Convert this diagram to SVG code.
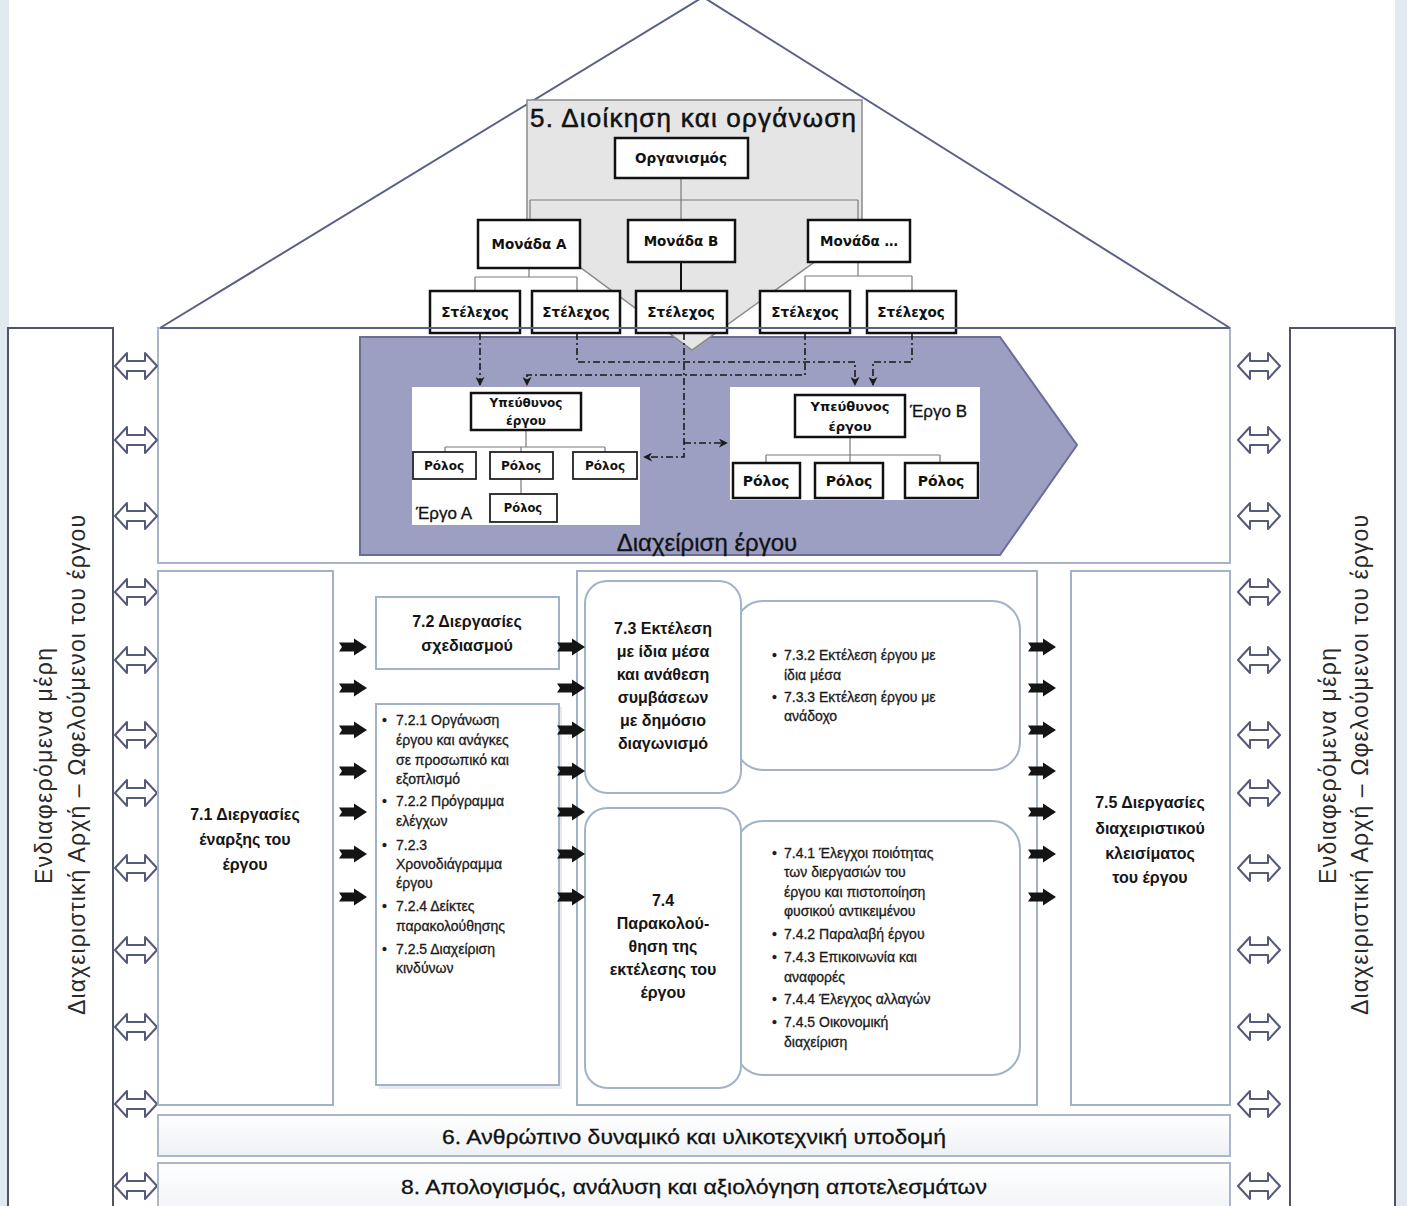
<svg xmlns="http://www.w3.org/2000/svg" width="1407" height="1206" viewBox="0 0 1407 1206">
<style>
.sans{font-family:"Liberation Sans",Arial,sans-serif}
.org{font-family:"DejaVu Sans","Liberation Sans",sans-serif;font-weight:bold;fill:#111}
.obox{fill:#fff;stroke:#111;stroke-width:2.5}
.rbox{fill:#fff;stroke:#222;stroke-width:1.8}
.ln{stroke:#7a7a7a;stroke-width:1.2;fill:none}
.pbox{fill:#fff;stroke:#a3b3c7;stroke-width:2}
.pt{font-family:"Liberation Sans",Arial,sans-serif;font-weight:bold;font-size:16px;fill:#151515;text-anchor:middle}
.lt{font-family:"Liberation Sans",Arial,sans-serif;font-size:14px;fill:#1a1a1a;stroke:#1a1a1a;stroke-width:0.3}
.dash{fill:none;stroke:#1a1a1a;stroke-width:1.6;stroke-dasharray:7 3 2 3}
.roof{stroke:#5b6087;stroke-width:2;fill:none}
.vt{font-family:"Liberation Sans",Arial,sans-serif;font-size:23px;fill:#2a2a2a;text-anchor:middle}
</style>
<defs>
<marker id="ah" viewBox="0 0 10 10" refX="9" refY="5" markerWidth="9" markerHeight="9" markerUnits="userSpaceOnUse" orient="auto">
<path d="M0,0 L10,5 L0,10 L3,5 Z" fill="#1a1a1a"/>
</marker>
<path id="dbl" d="M-21,0 L-9,-13 L-9,-5 L9,-5 L9,-13 L21,0 L9,13 L9,5 L-9,5 L-9,13 Z" fill="#fff" stroke="#55597a" stroke-width="2" stroke-linejoin="round"/>
<path id="blk" d="M-14,-4.5 L1,-4.5 L1,-8.5 L14,0 L1,8.5 L1,4.5 L-14,4.5 L-11,0 Z" fill="#141414"/>
<linearGradient id="bar" x1="0" y1="0" x2="0" y2="1">
<stop offset="0" stop-color="#ffffff"/>
<stop offset="1" stop-color="#eef1f5"/>
</linearGradient>
</defs>
<rect width="1407" height="1206" fill="#fff"/>
<rect x="0" y="0" width="9" height="1206" fill="#e3e9f1"/>
<rect x="1395" y="0" width="12" height="1206" fill="#e3e9f1"/>

<g id="roof">
<path class="roof" d="M160,328 L703,-3 L1230,328"/>
</g>

<g id="top-section">
<rect x="158" y="328" width="1072" height="235" fill="#fff" stroke="#a7b5c6" stroke-width="2"/>
</g>

<g id="project-management">
<polygon points="360,337 1000,337 1077,445 1000,555 360,555" fill="#9c9ec2" stroke="#6b6d95" stroke-width="2"/>
<text class="sans" x="707" y="551" font-size="24" text-anchor="middle" fill="#111" stroke="#111" stroke-width="0.3">Διαχείριση έργου</text>
</g>

<g id="administration">
<polygon points="527,100 862,100 862,228 692,350 527,228" fill="#e5e5e5" stroke="#8a8a8a" stroke-width="1.5"/>
<text class="sans" x="693" y="127" font-size="26" text-anchor="middle" fill="#111" stroke="#111" stroke-width="0.5" textLength="326">5. Διοίκηση και οργάνωση</text>
</g>

<g id="project-a">
<rect x="412" y="387" width="228" height="138" fill="#fff"/>
<text class="sans" x="416" y="519" font-size="17" fill="#111" stroke="#111" stroke-width="0.3">Έργο Α</text>
</g>
<g id="project-b">
<rect x="730" y="387" width="250" height="113" fill="#fff"/>
<text class="sans" x="910" y="417" font-size="17" fill="#111" stroke="#111" stroke-width="0.3">Έργο Β</text>
</g>

<g id="connectors">
<path class="ln" d="M681,178 V220 M530,200 H858 M530,200 V220 M858,200 V220"/>
<path class="ln" d="M529,268 V277 M475,277 H577 M475,277 V291 M577,277 V291"/>
<path d="M681,262 V291" stroke="#111" stroke-width="2"/>
<path class="ln" d="M858,262 V276 M805,276 H912 M805,276 V291 M912,276 V291"/>
<path class="ln" d="M526,430 V447 M445,447 H605 M445,447 V452 M521,447 V452 M605,447 V452 M521,479 V494"/>
<path class="ln" d="M850,437 V463 M766,455 H940 M766,455 V463 M940,455 V463"/>
<path class="dash" d="M480,333 V385" marker-end="url(#ah)"/>
<path class="dash" d="M805,333 V375 H527 V385" marker-end="url(#ah)"/>
<path class="dash" d="M577,333 V362 H855 V385" marker-end="url(#ah)"/>
<path class="dash" d="M912,333 V362 H873 V385" marker-end="url(#ah)"/>
<path class="dash" d="M684,333 V457 H644" marker-end="url(#ah)"/>
<path class="dash" d="M684,443 H727" marker-end="url(#ah)"/>
<use href="#dbl" x="136" y="366"/><use href="#dbl" x="136" y="440"/><use href="#dbl" x="136" y="516"/>
<use href="#dbl" x="136" y="592"/><use href="#dbl" x="136" y="660"/><use href="#dbl" x="136" y="735"/>
<use href="#dbl" x="136" y="793"/><use href="#dbl" x="136" y="868"/><use href="#dbl" x="136" y="950"/>
<use href="#dbl" x="136" y="1027"/><use href="#dbl" x="136" y="1104"/><use href="#dbl" x="136" y="1186"/>
<use href="#dbl" x="1259" y="366"/><use href="#dbl" x="1259" y="440"/><use href="#dbl" x="1259" y="516"/>
<use href="#dbl" x="1259" y="592"/><use href="#dbl" x="1259" y="660"/><use href="#dbl" x="1259" y="735"/>
<use href="#dbl" x="1259" y="793"/><use href="#dbl" x="1259" y="868"/><use href="#dbl" x="1259" y="950"/>
<use href="#dbl" x="1259" y="1027"/><use href="#dbl" x="1259" y="1104"/><use href="#dbl" x="1259" y="1186"/>
</g>

<g id="organismos"><rect class="obox" x="615" y="138" width="133" height="40"/><text class="org" x="681" y="163" font-size="13.5" text-anchor="middle">Οργανισμός</text></g>
<g id="monada-a"><rect class="obox" x="478" y="220" width="102" height="48"/><text class="org" x="529" y="249" font-size="13.5" text-anchor="middle">Μονάδα Α</text></g>
<g id="monada-b"><rect class="obox" x="628" y="220" width="107" height="42"/><text class="org" x="681" y="246" font-size="13.5" text-anchor="middle">Μονάδα Β</text></g>
<g id="monada-n"><rect class="obox" x="808" y="220" width="102" height="42"/><text class="org" x="859" y="246" font-size="13.5" text-anchor="middle">Μονάδα …</text></g>
<g id="stelexos-1"><rect class="obox" x="430" y="291" width="90" height="42"/><text class="org" x="475" y="317" font-size="13.5" text-anchor="middle">Στέλεχος</text></g>
<g id="stelexos-2"><rect class="obox" x="532" y="291" width="88" height="42"/><text class="org" x="576" y="317" font-size="13.5" text-anchor="middle">Στέλεχος</text></g>
<g id="stelexos-3"><rect class="obox" x="636" y="291" width="91" height="42"/><text class="org" x="681" y="317" font-size="13.5" text-anchor="middle">Στέλεχος</text></g>
<g id="stelexos-4"><rect class="obox" x="760" y="291" width="90" height="42"/><text class="org" x="805" y="317" font-size="13.5" text-anchor="middle">Στέλεχος</text></g>
<g id="stelexos-5"><rect class="obox" x="867" y="291" width="89" height="42"/><text class="org" x="911" y="317" font-size="13.5" text-anchor="middle">Στέλεχος</text></g>

<path class="roof" d="M160,328 H1230"/>

<g id="ypeythynos-a"><rect class="obox" x="471" y="393" width="110" height="37"/><text class="org" x="526" y="407" font-size="12" text-anchor="middle">Υπεύθυνος</text><text class="org" x="526" y="425" font-size="12" text-anchor="middle">έργου</text></g>
<g id="rolos-a1"><rect class="rbox" x="413" y="452" width="63" height="27"/><text class="org" x="444" y="470" font-size="12" text-anchor="middle">Ρόλος</text></g>
<g id="rolos-a2"><rect class="rbox" x="490" y="452" width="63" height="27"/><text class="org" x="521" y="470" font-size="12" text-anchor="middle">Ρόλος</text></g>
<g id="rolos-a3"><rect class="rbox" x="573" y="452" width="64" height="27"/><text class="org" x="605" y="470" font-size="12" text-anchor="middle">Ρόλος</text></g>
<g id="rolos-a4"><rect class="rbox" x="490" y="494" width="67" height="28"/><text class="org" x="523" y="512" font-size="11.5" text-anchor="middle">Ρόλος</text></g>

<g id="ypeythynos-b"><rect class="obox" x="795" y="395" width="110" height="42"/><text class="org" x="850" y="411" font-size="13" text-anchor="middle">Υπεύθυνος</text><text class="org" x="850" y="431" font-size="13" text-anchor="middle">έργου</text></g>
<g id="rolos-b1"><rect class="obox" x="733" y="463" width="67" height="35"/><text class="org" x="766" y="486" font-size="14" text-anchor="middle">Ρόλος</text></g>
<g id="rolos-b2"><rect class="obox" x="815" y="463" width="68" height="35"/><text class="org" x="849" y="486" font-size="14" text-anchor="middle">Ρόλος</text></g>
<g id="rolos-b3"><rect class="obox" x="905" y="463" width="73" height="35"/><text class="org" x="941" y="486" font-size="14" text-anchor="middle">Ρόλος</text></g>

<g id="stakeholders-left">
<rect x="8" y="328" width="105" height="900" fill="#fff" stroke="#4f546a" stroke-width="2"/>
<text class="vt" transform="translate(52,766) rotate(-90)" textLength="236">Ενδιαφερόμενα μέρη</text>
<text class="vt" transform="translate(85,765) rotate(-90)" textLength="500">Διαχειριστική Αρχή – Ωφελούμενοι του έργου</text>
</g>
<g id="stakeholders-right">
<rect x="1290" y="328" width="105" height="900" fill="#fff" stroke="#4f546a" stroke-width="2"/>
<text class="vt" transform="translate(1336,766) rotate(-90)" textLength="236">Ενδιαφερόμενα μέρη</text>
<text class="vt" transform="translate(1368,765) rotate(-90)" textLength="500">Διαχειριστική Αρχή – Ωφελούμενοι του έργου</text>
</g>

<g id="p71">
<rect class="pbox" x="158" y="571" width="175" height="534"/>
<text class="pt" x="245" y="820">7.1 Διεργασίες</text>
<text class="pt" x="245" y="845">έναρξης του</text>
<text class="pt" x="245" y="870">έργου</text>
</g>

<g id="p72">
<rect class="pbox" x="376" y="597" width="183" height="72"/>
<text class="pt" x="467" y="627">7.2 Διεργασίες</text>
<text class="pt" x="467" y="651">σχεδιασμού</text>
</g>
<g id="p72-list">
<rect x="379" y="707" width="183" height="382" fill="#e6e9ee"/>
<rect class="pbox" x="376" y="704" width="183" height="381"/>
<g class="lt">
<text x="382" y="725">•</text><text x="396" y="725">7.2.1 Οργάνωση</text>
<text x="396" y="745">έργου και ανάγκες</text>
<text x="396" y="765">σε προσωπικό και</text>
<text x="396" y="784">εξοπλισμό</text>
<text x="382" y="806">•</text><text x="396" y="806">7.2.2 Πρόγραμμα</text>
<text x="396" y="826">ελέγχων</text>
<text x="382" y="850">•</text><text x="396" y="850">7.2.3</text>
<text x="396" y="869">Χρονοδιάγραμμα</text>
<text x="396" y="888">έργου</text>
<text x="382" y="911">•</text><text x="396" y="911">7.2.4 Δείκτες</text>
<text x="396" y="931">παρακολούθησης</text>
<text x="382" y="954">•</text><text x="396" y="954">7.2.5 Διαχείριση</text>
<text x="396" y="973">κινδύνων</text>
</g>
</g>

<g id="p73-74-container">
<rect class="pbox" x="577" y="571" width="460" height="534"/>
</g>

<g id="p73-list">
<rect class="pbox" x="735" y="601" width="285" height="169" rx="28"/>
<g class="lt">
<text x="772" y="660">•</text><text x="784" y="660">7.3.2 Εκτέλεση έργου με</text>
<text x="784" y="680">ίδια μέσα</text>
<text x="772" y="702">•</text><text x="784" y="702">7.3.3 Εκτέλεση έργου με</text>
<text x="784" y="721">ανάδοχο</text>
</g>
</g>
<g id="p73">
<rect class="pbox" x="585" y="581" width="156" height="212" rx="22"/>
<text class="pt" x="663" y="634">7.3 Εκτέλεση</text>
<text class="pt" x="663" y="657">με ίδια μέσα</text>
<text class="pt" x="663" y="680">και ανάθεση</text>
<text class="pt" x="663" y="703">συμβάσεων</text>
<text class="pt" x="663" y="726">με δημόσιο</text>
<text class="pt" x="663" y="749">διαγωνισμό</text>
</g>

<g id="p74-list">
<rect class="pbox" x="735" y="821" width="285" height="254" rx="28"/>
<g class="lt">
<text x="772" y="858">•</text><text x="784" y="858">7.4.1 Έλεγχοι ποιότητας</text>
<text x="784" y="877">των διεργασιών του</text>
<text x="784" y="897">έργου και πιστοποίηση</text>
<text x="784" y="916">φυσικού αντικειμένου</text>
<text x="772" y="939">•</text><text x="784" y="939">7.4.2 Παραλαβή έργου</text>
<text x="772" y="962">•</text><text x="784" y="962">7.4.3 Επικοινωνία και</text>
<text x="784" y="982">αναφορές</text>
<text x="772" y="1004">•</text><text x="784" y="1004">7.4.4 Έλεγχος αλλαγών</text>
<text x="772" y="1027">•</text><text x="784" y="1027">7.4.5 Οικονομική</text>
<text x="784" y="1047">διαχείριση</text>
</g>
</g>
<g id="p74">
<rect class="pbox" x="585" y="808" width="156" height="280" rx="22"/>
<text class="pt" x="663" y="906">7.4</text>
<text class="pt" x="663" y="929">Παρακολού-</text>
<text class="pt" x="663" y="952">θηση της</text>
<text class="pt" x="663" y="975">εκτέλεσης του</text>
<text class="pt" x="663" y="998">έργου</text>
</g>

<g id="p75">
<rect class="pbox" x="1071" y="571" width="159" height="534"/>
<text class="pt" x="1150" y="808">7.5 Διεργασίες</text>
<text class="pt" x="1150" y="834">διαχειριστικού</text>
<text class="pt" x="1150" y="859">κλεισίματος</text>
<text class="pt" x="1150" y="883">του έργου</text>
</g>

<g id="flow-arrows">
<use href="#blk" x="353" y="647"/><use href="#blk" x="353" y="688"/><use href="#blk" x="353" y="730"/><use href="#blk" x="353" y="771"/><use href="#blk" x="353" y="812"/><use href="#blk" x="353" y="854"/><use href="#blk" x="353" y="897"/>
<use href="#blk" x="571" y="647"/><use href="#blk" x="571" y="688"/><use href="#blk" x="571" y="730"/><use href="#blk" x="571" y="771"/><use href="#blk" x="571" y="812"/><use href="#blk" x="571" y="854"/><use href="#blk" x="571" y="897"/>
<use href="#blk" x="1042" y="647"/><use href="#blk" x="1042" y="688"/><use href="#blk" x="1042" y="730"/><use href="#blk" x="1042" y="771"/><use href="#blk" x="1042" y="812"/><use href="#blk" x="1042" y="854"/><use href="#blk" x="1042" y="897"/>
</g>

<g id="infrastructure">
<rect x="158" y="1115" width="1072" height="41" fill="url(#bar)" stroke="#a9b7c8" stroke-width="2"/>
<text class="sans" x="694" y="1144" font-size="20" text-anchor="middle" fill="#111" stroke="#111" stroke-width="0.3" textLength="504" lengthAdjust="spacingAndGlyphs">6. Ανθρώπινο δυναμικό και υλικοτεχνική υποδομή</text>
</g>
<g id="evaluation">
<rect x="158" y="1163" width="1072" height="60" fill="url(#bar)" stroke="#a9b7c8" stroke-width="2"/>
<text class="sans" x="694" y="1194" font-size="20" text-anchor="middle" fill="#111" stroke="#111" stroke-width="0.3" textLength="586" lengthAdjust="spacingAndGlyphs">8. Απολογισμός, ανάλυση και αξιολόγηση αποτελεσμάτων</text>
</g>
</svg>
